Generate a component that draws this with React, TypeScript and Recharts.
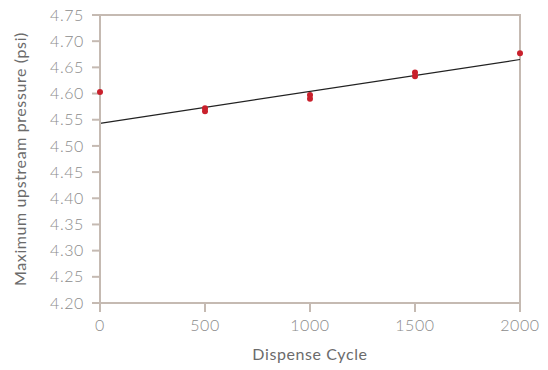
import { ComposedChart, Line, ReferenceArea, Scatter, XAxis, YAxis, Label } from "recharts";

const cycles = [0, 500, 500, 1000, 1000, 1500, 1500, 2000];
const pressures = [4.603, 4.572, 4.566, 4.597, 4.59, 4.64, 4.633, 4.677];

const trendCycles = [0, 2000];
const trendPressures = [4.543, 4.665];

const xTicks = [0, 500, 1000, 1500, 2000];
const yTicks = [4.2, 4.25, 4.3, 4.35, 4.4, 4.45, 4.5, 4.55, 4.6, 4.65, 4.7, 4.75];

const points = cycles.map((x, i) => ({ x, y: pressures[i] }));
const trend = trendCycles.map((x, i) => ({ x, y: trendPressures[i] }));

const frameColor = "#c5bab2";
const tickColor = "#8c8c8c";
const font = "Lato, 'Open Sans', sans-serif";

function Dot(props: { cx?: number; cy?: number }) {
  const { cx, cy } = props;
  if (cx == null || cy == null) return null;
  return <circle cx={cx} cy={cy} r={3} fill="#c9202c" />;
}

export default function App() {
  return (
    <div style={{ position: "absolute", left: 0, top: 0, width: 548, height: 370, background: "#fff" }}>
      <ComposedChart width={548} height={370} margin={{ top: 15, right: 28, bottom: 37, left: 40 }}>
        <ReferenceArea
          x1={0}
          x2={2000}
          y1={4.2}
          y2={4.75}
          fill="none"
          stroke={frameColor}
          strokeWidth={2}
          ifOverflow="visible"
        />
        <XAxis
          type="number"
          dataKey="x"
          domain={[0, 2000]}
          ticks={xTicks}
          allowDuplicatedCategory={false}
          stroke={frameColor}
          strokeWidth={2}
          tickSize={9}
          tickMargin={8}
          tick={{ fill: tickColor, fontSize: 16, fontFamily: font, fontWeight: 300, letterSpacing: 0.6 }}
        >
          <Label
            value="Dispense Cycle"
            position="bottom"
            offset={16}
            style={{ fill: "#6b6b6b", fontSize: 16, fontFamily: font, letterSpacing: 0.6 }}
          />
        </XAxis>
        <YAxis
          type="number"
          dataKey="y"
          domain={[4.2, 4.75]}
          ticks={yTicks}
          tickFormatter={(v) => Number(v).toFixed(2)}
          width={60}
          stroke={frameColor}
          strokeWidth={2}
          tickSize={8}
          tickMargin={8}
          tick={{ fill: tickColor, fontSize: 16, fontFamily: font, fontWeight: 300, letterSpacing: 0.6 }}
        >
          <Label
            value="Maximum upstream pressure (psi)"
            angle={-90}
            position="left"
            offset={20}
            style={{ textAnchor: "middle", fill: "#6b6b6b", fontSize: 16, fontFamily: font, letterSpacing: 0.6 }}
          />
        </YAxis>
        <Line
          data={trend}
          dataKey="y"
          type="linear"
          stroke="#222"
          strokeWidth={1.2}
          dot={false}
          activeDot={false}
          isAnimationActive={false}
        />
        <Scatter data={points} dataKey="y" shape={<Dot />} isAnimationActive={false} />
      </ComposedChart>
    </div>
  );
}
